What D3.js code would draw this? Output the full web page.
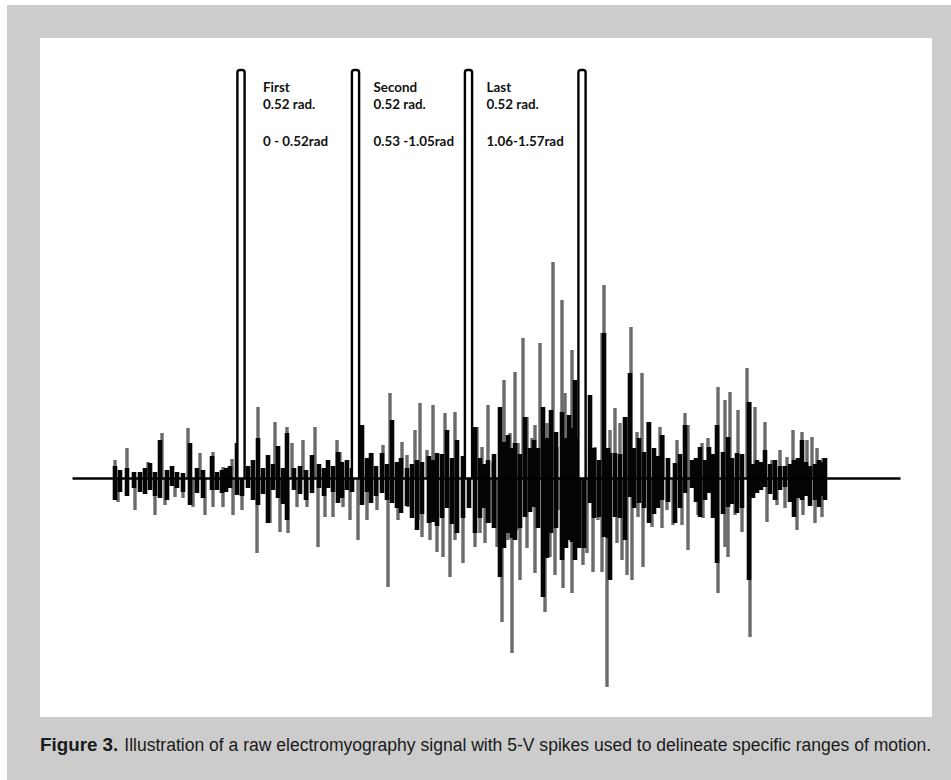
<!DOCTYPE html>
<html lang="en">
<head>
    <meta charset="utf-8">
    <title>Raw EMG signal with 5-V spikes</title>
    <style>
        body {
            margin: 0;
            background: #fff;
        }

        .spike-label {
            font: bold 13.4px Lato, "Open Sans", sans-serif;
            fill: #111;
        }

        .caption {
            font-family: "Liberation Sans", Arial, sans-serif;
            font-size: 17.55px;
            fill: #1a1a1a;
        }
    </style>
    <script src="https://cdn.jsdelivr.net/npm/d3@7"></script>
</head>
<body>
    <svg class="fig" width="951" height="780"></svg>
    <script>
        // signal: [sample, amplitude] (amplitude in uV)
        const grayUp = [
            [43, 18], [55, 30], [76, 16], [90, 45], [116, 50], [128, 25], [141, 26], [151, 11], [160, 19],
            [186, 71], [203, 56], [215, 51], [220, 35], [231, 38], [243, 51], [265, 38], [268, 26],
            [300, 25], [311, 33], [318, 85], [330, 36], [335, 23], [343, 48], [348, 75], [355, 28],
            [361, 73], [373, 65], [383, 66], [405, 51], [410, 31], [416, 73], [421, 16], [428, 71],
            [432, 98], [438, 45], [443, 106], [446, 35], [451, 140], [455, 61], [460, 40], [463, 53],
            [468, 135], [471, 71], [475, 55], [481, 216], [485, 31], [490, 178], [493, 85], [500, 128],
            [503, 98], [508, 83], [518, 83], [523, 31], [530, 145], [532, 193], [538, 48], [543, 70],
            [548, 55], [555, 61], [559, 151], [565, 46], [570, 105], [576, 56], [588, 51], [591, 43],
            [605, 38], [613, 65], [616, 53], [630, 35], [636, 40], [646, 91], [653, 78], [658, 86],
            [666, 68], [675, 110], [678, 76], [683, 71], [693, 56], [700, 18], [708, 28], [715, 21],
            [721, 48], [730, 46], [735, 38], [740, 41], [745, 30], [751, 20]
        ];
        const grayDown = [
            [46, 24], [63, 32], [73, 15], [83, 37], [93, 27], [103, 19], [111, 20], [121, 29], [133, 37],
            [141, 29], [151, 29], [161, 37], [170, 32], [185, 75], [198, 45], [208, 54], [216, 55],
            [225, 29], [235, 29], [246, 69], [253, 39], [261, 39], [271, 29], [278, 42], [286, 62],
            [295, 42], [305, 32], [316, 109], [326, 42], [336, 29], [346, 42], [350, 59], [358, 62],
            [365, 74], [371, 79], [378, 99], [383, 62], [391, 85], [403, 69], [408, 55], [413, 65],
            [418, 45], [425, 69], [428, 99], [430, 144], [436, 62], [440, 175], [445, 52], [448, 102],
            [455, 70], [458, 25], [463, 95], [471, 119], [473, 134], [478, 79], [483, 97], [486, 32],
            [491, 110], [496, 62], [500, 115], [503, 82], [508, 69], [511, 87], [515, 75], [521, 94],
            [526, 42], [530, 94], [535, 209], [538, 102], [545, 65], [550, 82], [555, 97], [560, 102],
            [566, 39], [571, 89], [580, 49], [590, 50], [595, 32], [601, 47], [610, 47], [616, 72],
            [626, 37], [631, 40], [646, 115], [653, 69], [656, 79], [663, 37], [670, 54], [678, 159],
            [685, 14], [695, 44], [705, 27], [713, 30], [725, 52], [731, 37], [743, 45], [750, 39]
        ];
        // dark core of the trace: [sample, up, down]
        const blackCore = [
            [43, 12, 22], [55, 10, 18], [68, 6, 14], [78, 15, 12], [88, 38, 20], [95, 8, 22], [105, 6, 10],
            [118, 35, 27], [125, 10, 15], [140, 22, 12], [150, 8, 15], [158, 12, 10], [165, 35, 17],
            [170, 8, 18], [186, 40, 27], [196, 23, 45], [206, 32, 20], [215, 45, 42],
            [222, 10, 12], [240, 23, 15], [256, 18, 10], [266, 26, 25], [275, 18, 12], [290, 53, 27],
            [299, 25, 25], [310, 25, 15], [320, 58, 25], [329, 20, 35], [345, 18, 52], [357, 22, 45],
            [365, 25, 48], [375, 48, 30], [385, 38, 55],
            [403, 51, 55], [416, 18, 45], [428, 71, 99], [436, 43, 55], [443, 35, 62], [453, 61, 39],
            [462, 38, 29], [471, 71, 119], [479, 68, 55], [490, 66, 82], [497, 63, 62], [503, 98, 82],
            [512, 20, 70], [518, 83, 25], [527, 18, 39], [532, 145, 59], [538, 25, 102], [543, 25, 39],
            [553, 61, 62], [558, 105, 19], [567, 40, 25],
            [577, 56, 45], [590, 43, 22], [603, 15, 45], [613, 53, 15], [620, 18, 10], [628, 31, 39],
            [637, 31, 15], [645, 53, 85], [656, 41, 29], [665, 25, 35], [677, 76, 102], [685, 18, 15],
            [693, 28, 9], [703, 18, 22], [713, 12, 9], [722, 18, 39], [730, 38, 22], [738, 12, 28],
            [747, 18, 29], [753, 20, 22]
        ];
        // low-level samples in between, which make the dense band round the zero line
        const blackFill = [
            [48, 8, 14], [62, 6, 10], [73, 10, 16], [83, 6, 18], [100, 12, 8], [111, 5, 14], [131, 8, 20],
            [145, 6, 12], [154, 10, 14], [176, 12, 10], [181, 18, 22], [191, 10, 16], [201, 14, 12], [211, 10, 26],
            [228, 12, 16], [234, 8, 22], [247, 14, 10], [252, 10, 18], [261, 12, 14], [270, 16, 20], [280, 10, 14],
            [295, 20, 14], [304, 12, 18], [315, 14, 22], [325, 16, 30], [335, 10, 28], [340, 14, 40], [350, 16, 36],
            [361, 18, 44], [370, 24, 40], [380, 20, 46], [391, 22, 40], [397, 12, 30],
            [408, 20, 40], [412, 14, 30], [422, 24, 50], [432, 36, 70], [440, 30, 60], [448, 24, 50], [458, 30, 34],
            [466, 30, 50], [475, 40, 80], [484, 46, 50], [494, 40, 70], [500, 50, 64], [507, 40, 70], [522, 30, 40],
            [536, 30, 60], [548, 24, 40], [562, 30, 30],
            [572, 26, 30], [582, 30, 36], [586, 22, 30], [596, 20, 24], [608, 24, 30], [624, 20, 24], [633, 18, 22],
            [641, 24, 40], [651, 26, 36], [660, 20, 26], [670, 24, 30], [681, 14, 20], [689, 16, 12], [698, 14, 16],
            [708, 12, 12], [718, 14, 24], [726, 20, 20], [734, 16, 18], [743, 14, 22], [750, 16, 18]
        ];

        // 5-V marker spikes (sample positions)
        const spikes = [169, 283.5, 396.5, 510];
        const spikeVolts = 5;

        const segNames = ['First', 'Second', 'Last'];
        const segSizes = ['0.52 rad.', '0.52 rad.', '0.52 rad.'];
        const segRanges = ['0 - 0.52rad', '0.53 -1.05rad', '1.06-1.57rad'];

        const captionBold = 'Figure 3.';
        const captionText = 'Illustration of a raw electromyography signal with 5-V spikes used to delineate specific ranges of motion.';

        var svg = d3.select('.fig');

        // frame: grey page, white plot panel
        svg.append('rect').attr('x', 7).attr('y', 5).attr('width', 944).attr('height', 775).attr('fill', '#cccccc');
        svg.append('rect').attr('x', 40).attr('y', 38).attr('width', 892).attr('height', 679).attr('fill', '#fff');

        var x = d3.scaleLinear().domain([0, 828]).range([72, 900]);
        var y = d3.scaleLinear().domain([-220, 220]).range([698, 258]);
        var v = d3.scaleLinear().domain([0, spikeVolts]).range([y(0), 70]);

        var g = svg.append('g');

        // gray trace
        g.selectAll('.up')
            .data(grayUp)
            .join('rect')
            .attr('class', 'up')
            .attr('x', d => x(d[0]) - 1.7)
            .attr('width', 3.4)
            .attr('y', d => y(d[1]))
            .attr('height', d => y(0) - y(d[1]))
            .attr('fill', '#6b6b6b')

        g.selectAll('.down')
            .data(grayDown)
            .join('rect')
            .attr('class', 'down')
            .attr('x', d => x(d[0]) - 1.7)
            .attr('width', 3.4)
            .attr('y', y(0))
            .attr('height', d => y(-d[1]) - y(0))
            .attr('fill', '#6b6b6b')

        // black core
        g.selectAll('.core')
            .data(blackCore.concat(blackFill))
            .join('rect')
            .attr('class', 'core')
            .attr('x', d => x(d[0]) - 2.3)
            .attr('width', 4.6)
            .attr('y', d => y(d[1]))
            .attr('height', d => y(-d[2]) - y(d[1]))
            .attr('fill', '#050505')

        // spikes
        var hw = 3.6, r = 2.5;
        g.selectAll('.spike')
            .data(spikes)
            .join('path')
            .attr('class', 'spike')
            .attr('d', d => {
                var x0 = x(d) - hw, x1 = x(d) + hw, top = v(spikeVolts);
                return `M${x0},${y(0)}V${top + r}Q${x0},${top} ${x0 + r},${top}H${x1 - r}Q${x1},${top} ${x1},${top + r}V${y(0)}`;
            })
            .attr('fill', '#fff')
            .attr('stroke', '#000')
            .attr('stroke-width', 2.4)

        // zero line
        svg.append('g')
            .attr('transform', `translate(0,${y(0)})`)
            .call(d3.axisBottom(x).tickValues([]).tickSizeOuter(0))
            .select('.domain')
            .attr('stroke', '#000')
            .attr('stroke-width', 2.6)

        // segment labels between spikes
        var lx = (d, i) => x(spikes[i]) + (i == 0 ? 22 : 18);
        var lab = svg.selectAll('.spike-label')
            .data(segNames)
            .join('text')
            .attr('class', 'spike-label')
            .attr('x', lx)
            .attr('y', 91.5)

        lab.append('tspan').text(d => d)
        lab.append('tspan').attr('x', lx).attr('dy', 17.5).text((d, i) => segSizes[i])
        lab.append('tspan').attr('x', lx).attr('dy', 37).text((d, i) => segRanges[i])

        // caption
        var cap = svg.append('text').attr('class', 'caption').attr('x', 40).attr('y', 750.5)
        cap.append('tspan').attr('font-weight', 'bold').attr('font-size', '18.8px').text(captionBold)
        cap.append('tspan').attr('dx', 6).text(captionText)
    </script>
</body>
</html>
